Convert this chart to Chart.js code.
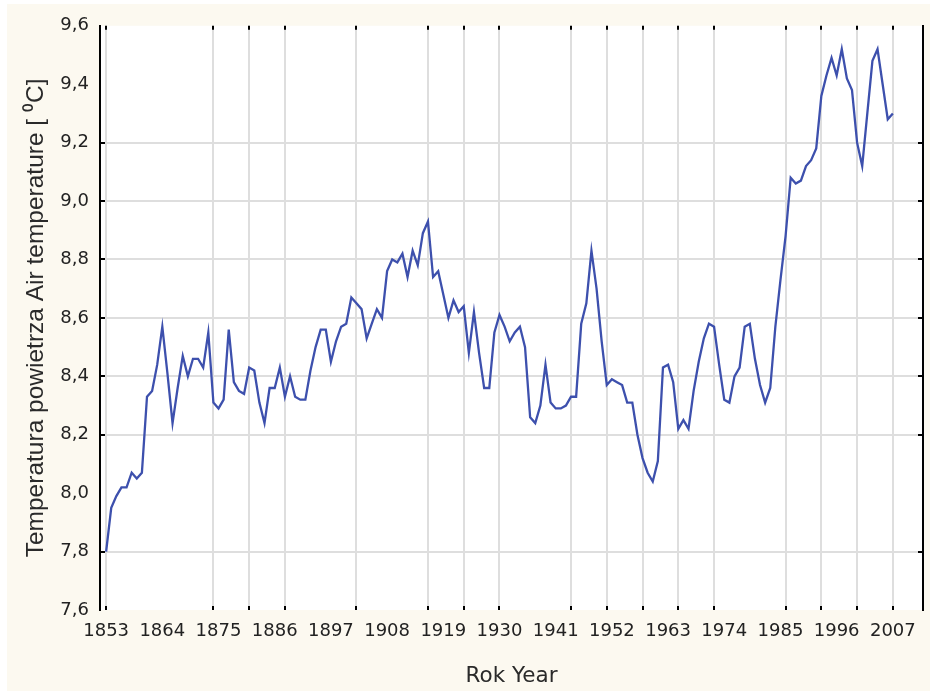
<!DOCTYPE html>
<html><head><meta charset="utf-8">
<script src="https://cdn.jsdelivr.net/npm/chart.js@4.4.0/dist/chart.umd.min.js"></script>
<style>
html,body{margin:0;padding:0;background:#fff;overflow:hidden;}
#wrap{position:absolute;left:7px;top:4px;width:923px;height:687px;}
</style></head><body>
<div id="wrap"><canvas id="c" width="923" height="687"></canvas></div>
<script>
const years = [
 1853,1854,1855,1856,1857,1858,1859,1860,1861,1862,
 1863,1864,1865,1866,1867,1868,1869,1870,1871,1872,
 1873,1874,1875,1876,1877,1878,1879,1880,1881,1882,
 1883,1884,1885,1886,1887,1888,1889,1890,1891,1892,
 1893,1894,1895,1896,1897,1898,1899,1900,1901,1902,
 1903,1904,1905,1906,1907,1908,1909,1910,1911,1912,
 1913,1914,1915,1916,1917,1918,1919,1920,1921,1922,
 1923,1924,1925,1926,1927,1928,1929,1930,1931,1932,
 1933,1934,1935,1936,1937,1938,1939,1940,1941,1942,
 1943,1944,1945,1946,1947,1948,1949,1950,1951,1952,
 1953,1954,1955,1956,1957,1958,1959,1960,1961,1962,
 1963,1964,1965,1966,1967,1968,1969,1970,1971,1972,
 1973,1974,1975,1976,1977,1978,1979,1980,1981,1982,
 1983,1984,1985,1986,1987,1988,1989,1990,1991,1992,
 1993,1994,1995,1996,1997,1998,1999,2000,2001,2002,
 2003,2004,2005,2006,2007
];
const temperature = [
 7.80,7.95,7.99,8.02,8.02,8.07,8.05,8.07,8.33,8.35,
 8.44,8.57,8.41,8.24,8.36,8.47,8.40,8.46,8.46,8.43,
 8.55,8.31,8.29,8.32,8.56,8.38,8.35,8.34,8.43,8.42,
 8.31,8.24,8.36,8.36,8.43,8.33,8.40,8.33,8.32,8.32,
 8.42,8.50,8.56,8.56,8.45,8.52,8.57,8.58,8.67,8.65,
 8.63,8.53,8.58,8.63,8.60,8.76,8.80,8.79,8.82,8.74,
 8.83,8.78,8.89,8.93,8.74,8.76,8.68,8.60,8.66,8.62,
 8.64,8.48,8.62,8.48,8.36,8.36,8.55,8.61,8.57,8.52,
 8.55,8.57,8.50,8.26,8.24,8.30,8.44,8.31,8.29,8.29,
 8.30,8.33,8.33,8.58,8.65,8.83,8.70,8.52,8.37,8.39,
 8.38,8.37,8.31,8.31,8.20,8.12,8.07,8.04,8.11,8.43,
 8.44,8.38,8.22,8.25,8.22,8.35,8.45,8.53,8.58,8.57,
 8.44,8.32,8.31,8.40,8.43,8.57,8.58,8.46,8.37,8.31,
 8.36,8.57,8.73,8.88,9.08,9.06,9.07,9.12,9.14,9.18,
 9.36,9.43,9.49,9.43,9.52,9.42,9.38,9.20,9.12,9.30,
 9.48,9.52,9.40,9.28,9.30
];
const xLabelYears = [1853,1864,1875,1886,1897,1908,1919,1930,1941,1952,1963,1974,1985,1996,2007];
const xLabelTexts = ['1853','1864','1875','1886','1897','1908','1919','1930','1941','1952','1963','1974','1985','1996','2007'];
const xGridYears = [1853,1874,1881,1888,1902,1916,1923,1930,1944,1951,1958,1965,1972,1986,1993,2000,2007];
const yTickValues = [7.6,7.8,8.0,8.2,8.4,8.6,8.8,9.0,9.2,9.4,9.6];
const yTickTexts = ['7,6','7,8','8,0','8,2','8,4','8,6','8,8','9,0','9,2','9,4','9,6'];
const yGridValues = [7.8,8.2,8.4,8.6,8.8,9.0,9.2];

const near = (a,b) => Math.abs(a-b) < 1e-6;
const inList = (list,v) => list.some(t => near(t,v));

const bgPlugin = {
  id:'bg',
  beforeDraw(chart){
    const {ctx, chartArea:a} = chart;
    ctx.save();
    ctx.fillStyle = '#fcf9f0';
    ctx.fillRect(0,0,chart.width,chart.height);
    ctx.fillStyle = '#ffffff';
    ctx.fillRect(a.left,a.top,a.right-a.left,a.bottom-a.top);
    ctx.restore();
  }
};
const tickMarks = {
  id:'tickMarks',
  afterDraw(chart){
    const {ctx, chartArea:a, scales} = chart;
    ctx.save();
    ctx.strokeStyle = '#000';
    ctx.lineWidth = 2;
    ctx.beginPath();
    xGridYears.forEach(yr => {
      const px = Math.round(scales.x.getPixelForValue(yr));
      ctx.moveTo(px, a.top); ctx.lineTo(px, a.top+4);
      ctx.moveTo(px, a.bottom); ctx.lineTo(px, a.bottom-4);
    });
    yGridValues.forEach(v => {
      const py = Math.round(scales.y.getPixelForValue(v));
      ctx.moveTo(a.left, py); ctx.lineTo(a.left+5, py);
      ctx.moveTo(a.right, py); ctx.lineTo(a.right-5, py);
    });
    ctx.stroke();
    ctx.restore();
  }
};

new Chart(document.getElementById('c'), {
  type:'line',
  data:{
    datasets:[{
      data: years.map((y,i)=>({x:y, y:temperature[i]})),
      borderColor:'#3d50ad',
      borderWidth:2.3,
      pointRadius:0,
      tension:0,
      fill:false
    }]
  },
  options:{
    responsive:false,
    devicePixelRatio:1,
    animation:false,
    layout:{padding:{left:0,top:20,right:7,bottom:0}},
    plugins:{legend:{display:false},tooltip:{enabled:false}},
    scales:{
      x:{
        type:'linear', min:1851.8, max:2012.9,
        afterBuildTicks(s){
          const vals = Array.from(new Set([...xLabelYears, ...xGridYears])).sort((a,b)=>a-b);
          s.ticks = vals.map(v=>({value:v}));
        },
        afterFit(s){ s.height = 81; },
        ticks:{
          autoSkip:false, maxRotation:0, minRotation:0, padding:11,
          color:'#222',
          font:{family:'DejaVu Sans', size:18},
          callback(v){ const i = xLabelYears.indexOf(v); return i>=0 ? xLabelTexts[i] : ''; }
        },
        grid:{
          drawTicks:false,
          lineWidth:2,
          color(ctx){ return (ctx.tick && xGridYears.includes(ctx.tick.value)) ? '#dedede' : 'rgba(0,0,0,0)'; }
        },
        border:{display:false},
        title:{display:true, text:'Rok Year', color:'#2a2a2a',
          font:{family:'DejaVu Sans', size:21.5}, padding:{top:0,bottom:2}}
      },
      y:{
        type:'linear', min:7.6, max:9.6,
        afterBuildTicks(s){ s.ticks = yTickValues.map(v=>({value:v})); },
        afterFit(s){ s.width = 93; },
        ticks:{
          padding:11, color:'#222',
          font:{family:'DejaVu Sans', size:18},
          callback(v){ const i = yTickValues.findIndex(t=>near(t,v)); return i>=0 ? yTickTexts[i] : ''; }
        },
        grid:{
          drawTicks:false,
          lineWidth:2,
          color(ctx){ return (ctx.tick && inList(yGridValues, ctx.tick.value)) ? '#dedede' : 'rgba(0,0,0,0)'; }
        },
        border:{display:true, color:'#000', width:2},
        title:{display:true, text:'Temperatura powietrza Air temperature [ \u2070C]', color:'#2a2a2a',
          font:{family:'Liberation Sans', size:24.5}, padding:{top:15,bottom:0}}
      },
      y2:{
        type:'linear', position:'right', min:7.6, max:9.6,
        afterFit(s){ s.width = 0; },
        ticks:{display:false},
        grid:{display:false, drawOnChartArea:false, drawTicks:false},
        border:{display:true, color:'#000', width:2}
      }
    }
  },
  plugins:[bgPlugin, tickMarks]
});
</script>
</body></html>
